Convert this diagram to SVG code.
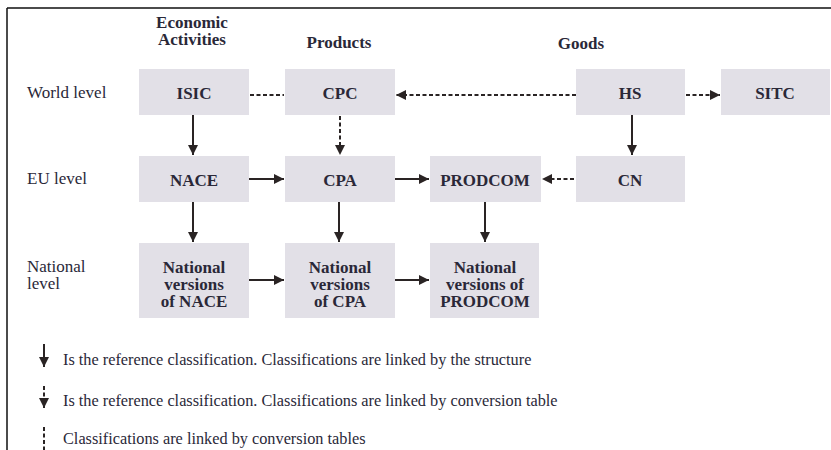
<svg xmlns="http://www.w3.org/2000/svg" width="831" height="450" viewBox="0 0 831 450">
<style>
.box{fill:#e2e0e7}
.lbl{font-family:"Liberation Serif",serif;font-size:17px;fill:#2a2838}
.node{font-family:"Liberation Serif",serif;font-size:17px;font-weight:bold;fill:#2a2838;text-anchor:middle}
.hdr{font-family:"Liberation Serif",serif;font-size:17px;font-weight:bold;fill:#2a2838;text-anchor:middle}
.leg{font-family:"Liberation Serif",serif;font-size:16.3px;fill:#2a2838}
.s{stroke:#2a2424;stroke-width:2;fill:none}
.d{stroke:#2a2424;stroke-width:2;fill:none;stroke-dasharray:4 2.5}
</style>
<defs>
<marker id="ah" viewBox="0 0 10 10" refX="10" refY="5" markerWidth="5" markerHeight="5" orient="auto" markerUnits="strokeWidth">
<path d="M0,0 L10,5 L0,10 Z" fill="#2a2424"/>
</marker>
</defs>
<g id="frame"><path d="M7,8 H831 M7,8 V450" stroke="#111" stroke-width="1.5" fill="none"/></g>
<g id="headers">
<text class="hdr" x="192" y="28">Economic</text>
<text class="hdr" x="192" y="45">Activities</text>
<text class="hdr" x="339" y="48">Products</text>
<text class="hdr" x="581" y="49">Goods</text>
</g>
<g id="rowlabels">
<text class="lbl" x="27" y="98">World level</text>
<text class="lbl" x="27" y="184">EU level</text>
<text class="lbl" x="27" y="272">National</text>
<text class="lbl" x="27" y="289">level</text>
</g>
<g id="isic"><rect class="box" x="139" y="69" width="110" height="46"/><text class="node" x="194" y="99">ISIC</text></g>
<g id="cpc"><rect class="box" x="285" y="69" width="110" height="46"/><text class="node" x="340" y="99">CPC</text></g>
<g id="hs"><rect class="box" x="576" y="69" width="109" height="46"/><text class="node" x="630" y="99">HS</text></g>
<g id="sitc"><rect class="box" x="721" y="69" width="109" height="46"/><text class="node" x="775" y="99">SITC</text></g>
<g id="nace"><rect class="box" x="139" y="156" width="110" height="46"/><text class="node" x="194" y="186">NACE</text></g>
<g id="cpa"><rect class="box" x="285" y="156" width="110" height="46"/><text class="node" x="340" y="186">CPA</text></g>
<g id="prodcom"><rect class="box" x="430" y="156" width="111" height="46"/><text class="node" x="485" y="186">PRODCOM</text></g>
<g id="cn"><rect class="box" x="576" y="156" width="109" height="46"/><text class="node" x="630" y="186">CN</text></g>
<g id="natnace"><rect class="box" x="139" y="243" width="110" height="75"/><text class="node" x="194" y="273">National</text><text class="node" x="194" y="290">versions</text><text class="node" x="194" y="307">of NACE</text></g>
<g id="natcpa"><rect class="box" x="285" y="243" width="110" height="75"/><text class="node" x="340" y="273">National</text><text class="node" x="340" y="290">versions</text><text class="node" x="340" y="307">of CPA</text></g>
<g id="natprodcom"><rect class="box" x="430" y="243" width="109" height="75"/><text class="node" x="485" y="273">National</text><text class="node" x="485" y="290">versions of</text><text class="node" x="485" y="307">PRODCOM</text></g>
<g id="connectors">
<path class="d" d="M250,95 H284"/>
<path class="d" d="M576,95 H396" marker-end="url(#ah)"/>
<path class="d" d="M686,95 H720" marker-end="url(#ah)"/>
<path class="s" d="M193,115 V155" marker-end="url(#ah)"/>
<path class="d" d="M340,116 V155" marker-end="url(#ah)"/>
<path class="s" d="M632,115 V155" marker-end="url(#ah)"/>
<path class="s" d="M249,179 H284" marker-end="url(#ah)"/>
<path class="s" d="M395,179 H429" marker-end="url(#ah)"/>
<path class="d" d="M574,179 H542" marker-end="url(#ah)"/>
<path class="s" d="M193,202 V242" marker-end="url(#ah)"/>
<path class="s" d="M339,202 V242" marker-end="url(#ah)"/>
<path class="s" d="M485,202 V242" marker-end="url(#ah)"/>
<path class="s" d="M249,280 H284" marker-end="url(#ah)"/>
<path class="s" d="M395,280 H429" marker-end="url(#ah)"/>
</g>
<g id="legend">
<path class="s" d="M44,344 V367" marker-end="url(#ah)"/>
<text class="leg" x="63" y="365">Is the reference classification. Classifications are linked by the structure</text>
<path class="d" d="M44,386 V408" marker-end="url(#ah)"/>
<text class="leg" x="63" y="406">Is the reference classification. Classifications are linked by conversion table</text>
<path class="d" d="M44,427 V450"/>
<text class="leg" x="63" y="444">Classifications are linked by conversion tables</text>
</g>
</svg>
